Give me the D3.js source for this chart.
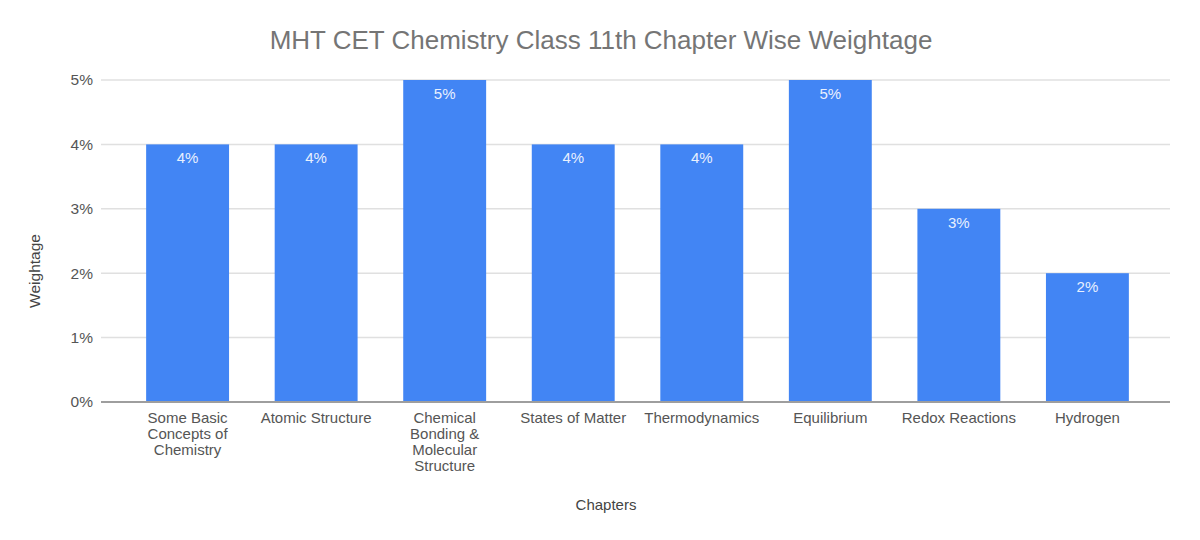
<!DOCTYPE html>
<html>
<head>
<meta charset="utf-8">
<script src="https://cdn.jsdelivr.net/npm/d3@7"></script>
<style>
  body { margin: 0; background: #fff; }
  svg { font-family: Arial, "Liberation Sans", sans-serif; }
</style>
</head>
<body>
<script>
// chart data
const chapters = [
    ["Some Basic", "Concepts of", "Chemistry"],
    ["Atomic Structure"],
    ["Chemical", "Bonding &", "Molecular", "Structure"],
    ["States of Matter"],
    ["Thermodynamics"],
    ["Equilibrium"],
    ["Redox Reactions"],
    ["Hydrogen"]
];
const weightage = [4, 4, 5, 4, 4, 5, 3, 2];
const yTicks = [0, 1, 2, 3, 4, 5];

const width = 1200;
const height = 540;
const plot = {left: 101, right: 1170, top: 80, bottom: 402};

const svg = d3.select("body").append("svg").attr("width", width).attr("height", height);

const xScale = d3.scaleBand()
    .domain(d3.range(chapters.length))
    .range([123, 1152])
    .paddingInner(0.355)
    .paddingOuter(0.18);

const yScale = d3.scaleLinear().domain([0, 5]).range([plot.bottom, plot.top]);

//Title.
svg.append("text")
    .attr("x", 601)
    .attr("y", 49)
    .attr("text-anchor", "middle")
    .attr("font-size", 26)
    .attr("fill", "#757575")
    .text("MHT CET Chemistry Class 11th Chapter Wise Weightage");

//Gridlines.
svg.append("g")
    .selectAll("line")
    .data(yTicks.filter((d) => d > 0))
    .enter()
    .append("line")
    .attr("x1", plot.left)
    .attr("x2", plot.right)
    .attr("y1", (d) => yScale(d))
    .attr("y2", (d) => yScale(d))
    .attr("stroke", "#e0e0e0")
    .attr("stroke-width", 1.5);

//Y-Axis labels.
const yAxis = d3.axisLeft(yScale).tickValues(yTicks).tickSize(0).tickPadding(8).tickFormat((d) => d + "%");
const gy = svg.append("g")
    .attr("transform", "translate(" + plot.left + ",0)")
    .call(yAxis);
gy.select(".domain").remove();
gy.selectAll("text").attr("font-size", 15.5).attr("fill", "#555").attr("font-family", "Arial, 'Liberation Sans', sans-serif");

//Bars.
svg.selectAll("rect.bar")
    .data(weightage)
    .enter()
    .append("rect")
    .attr("class", "bar")
    .attr("x", (d, i) => xScale(i))
    .attr("y", (d) => yScale(d))
    .attr("width", xScale.bandwidth())
    .attr("height", (d) => yScale(0) - yScale(d))
    .attr("fill", "#4285f4");

//Bar value labels.
svg.selectAll("text.val")
    .data(weightage)
    .enter()
    .append("text")
    .attr("class", "val")
    .attr("x", (d, i) => xScale(i) + xScale.bandwidth() / 2)
    .attr("y", (d) => yScale(d) + 19)
    .attr("text-anchor", "middle")
    .attr("font-size", 15)
    .attr("fill", "#e8f0fe")
    .text((d) => d + "%");

//Baseline.
svg.append("line")
    .attr("x1", plot.left)
    .attr("x2", plot.right)
    .attr("y1", yScale(0))
    .attr("y2", yScale(0))
    .attr("stroke", "#9e9e9e")
    .attr("stroke-width", 2);

//X-Axis labels.
const xl = svg.append("g")
    .selectAll("text")
    .data(chapters)
    .enter()
    .append("text")
    .attr("x", (d, i) => xScale(i) + xScale.bandwidth() / 2)
    .attr("y", yScale(0) + 21)
    .attr("text-anchor", "middle")
    .attr("font-size", 15)
    .attr("fill", "#555");
xl.selectAll("tspan")
    .data((d) => d)
    .enter()
    .append("tspan")
    .attr("x", function() { return this.parentNode.getAttribute("x"); })
    .attr("dy", (d, i) => i === 0 ? 0 : 16)
    .text((d) => d);

//Axis titles.
svg.append("text")
    .attr("x", 606)
    .attr("y", 510)
    .attr("text-anchor", "middle")
    .attr("font-size", 15)
    .attr("fill", "#444")
    .text("Chapters");

svg.append("text")
    .attr("transform", "translate(40,271) rotate(-90)")
    .attr("text-anchor", "middle")
    .attr("font-size", 15.5)
    .attr("fill", "#444")
    .text("Weightage");
</script>
</body>
</html>
